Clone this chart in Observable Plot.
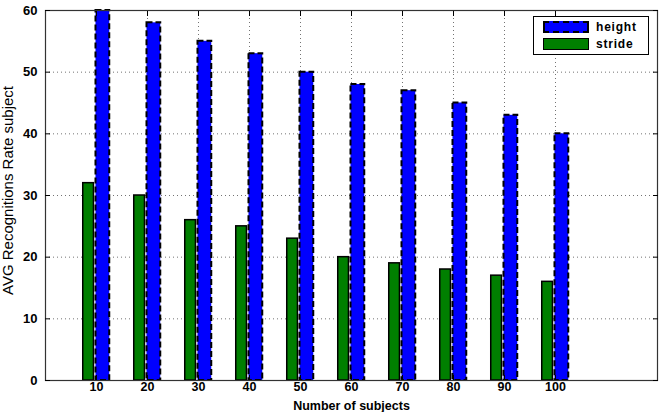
<!DOCTYPE html>
<html>
<head>
<meta charset="utf-8">
<script src="https://cdn.jsdelivr.net/npm/d3@7"></script>
<script src="https://cdn.jsdelivr.net/npm/@observablehq/plot@0.6"></script>
<style>
  html, body { margin: 0; padding: 0; background: #fff; }
  #wrap { position: relative; width: 662px; height: 412px; font-family: "Liberation Sans", Arial, sans-serif; }
  #legend { position: absolute; left: 533px; top: 16px; width: 116px; height: 39px; border: 1px solid #000; background: #fff; box-sizing: border-box; }
  .row { position: absolute; left: 9px; height: 13px; display: flex; align-items: center; }
  .sw { width: 46px; height: 12px; box-sizing: border-box; }
  .lbl { font-weight: bold; font-size: 12px; margin-left: 7px; letter-spacing: 0.8px; }
</style>
</head>
<body>
<div id="wrap">
  <div id="chart"></div>
  <div id="legend">
    <div class="row" style="top:3px"><div class="sw" style="background:#0000ff;border:2px dashed #000"></div><span class="lbl">height</span></div>
    <div class="row" style="top:20px"><div class="sw" style="background:#007f00;border:1.5px solid #000"></div><span class="lbl">stride</span></div>
  </div>
</div>
<script>
const subjects = [10, 20, 30, 40, 50, 60, 70, 80, 90, 100];
const heightVals = [60, 58, 55, 53, 50, 48, 47, 45, 43, 40];
const strideVals = [32, 30, 26, 25, 23, 20, 19, 18, 17, 16];
const yTicks = [0, 10, 20, 30, 40, 50, 60];

const strideData = subjects.map((s, i) => ({s, v: strideVals[i]}));
const heightData = subjects.map((s, i) => ({s, v: heightVals[i]}));

const chart = Plot.plot({
  width: 662,
  height: 412,
  marginLeft: 45,
  marginRight: 5,
  marginTop: 10,
  marginBottom: 32,
  style: {fontFamily: "'Liberation Sans', Arial, sans-serif", fontSize: "13px", fontWeight: "bold", background: "#fff", color: "#000"},
  x: {domain: [0, 120], ticks: subjects},
  y: {domain: [0, 60], ticks: yTicks},
  marks: [
    Plot.gridY(yTicks, {stroke: "#000", strokeOpacity: 0.55, strokeDasharray: "1,3"}),
    Plot.gridX(subjects, {stroke: "#000", strokeOpacity: 0.55, strokeDasharray: "1,3"}),
    Plot.rectY(strideData, {x1: d => d.s - 2.6, x2: d => d.s - 0.5, y1: 0, y2: "v", fill: "#007f00", stroke: "#000", strokeWidth: 1.5}),
    Plot.rectY(heightData, {x1: d => d.s - 0.1, x2: d => d.s + 2.6, y1: 0, y2: "v", fill: "#0000ff", stroke: "#000", strokeWidth: 2, strokeDasharray: "6,3"}),
    Plot.frame({stroke: "#333", strokeWidth: 1.2}),
    Plot.axisX(subjects, {anchor: "bottom", tickSize: 0, tickPadding: 2, fontSize: 12.5, fontWeight: "bold", label: null}),
    Plot.axisX(subjects, {anchor: "bottom", tickSize: -5, text: null, label: null}),
    Plot.axisX(subjects, {anchor: "top", tickSize: -5, text: null, label: null}),
    Plot.axisY(yTicks, {anchor: "left", tickSize: 0, tickPadding: 8, fontSize: 13, fontWeight: "bold", label: null}),
    Plot.axisY(yTicks, {anchor: "left", tickSize: -5, text: null, label: null}),
    Plot.axisY(yTicks, {anchor: "right", tickSize: -5, text: null, label: null}),
    Plot.text(["Number of subjects"], {frameAnchor: "bottom", lineAnchor: "middle", dy: 25, fontSize: 12.5, fontWeight: "bold", letterSpacing: "1.2px"}),
    Plot.text(["AVG Recognitions Rate subject"], {frameAnchor: "left", textAnchor: "middle", dx: -37, dy: -5, rotate: -90, fontSize: 15, fontWeight: "normal", fontFamily: "'Liberation Sans Narrow', 'Liberation Sans', Arial, sans-serif"})
  ]
});
document.getElementById("chart").appendChild(chart);
</script>
</body>
</html>
